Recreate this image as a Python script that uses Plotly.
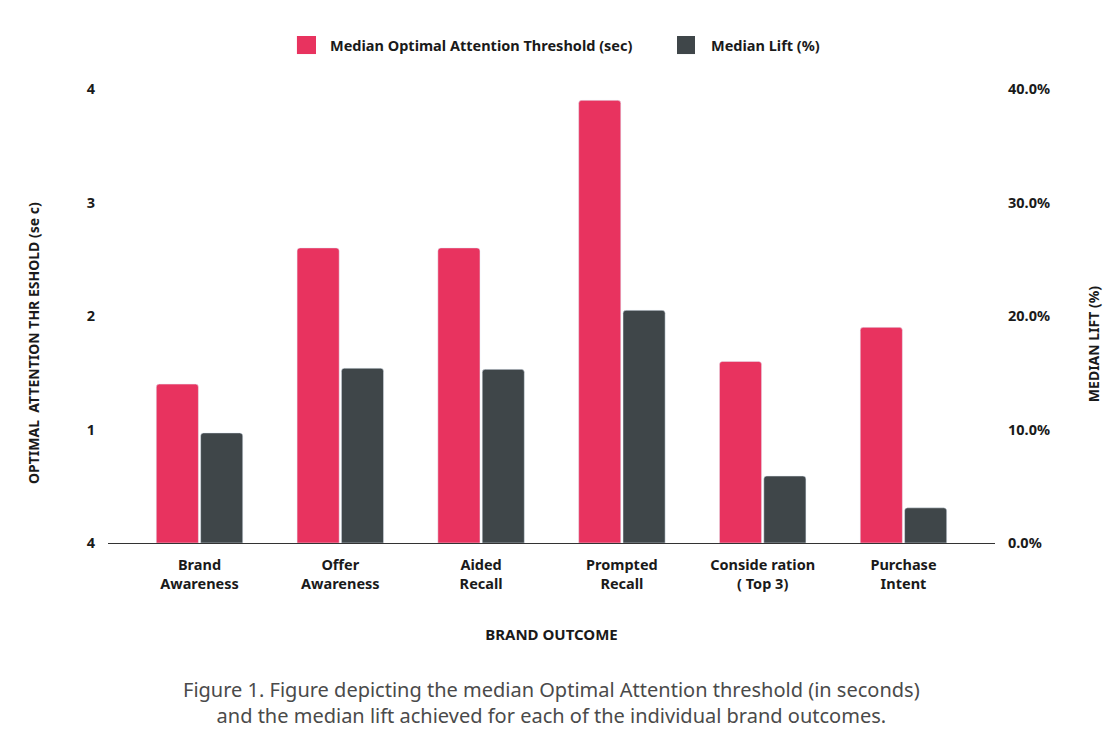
import plotly.graph_objects as go
from plotly.subplots import make_subplots

categories = ["Brand<br>Awareness", "Offer<br>Awareness", "Aided<br>Recall",
              "Prompted<br>Recall", "Conside ration<br>( Top 3)", "Purchase<br>Intent"]
threshold_sec = [1.4, 2.6, 2.6, 3.9, 1.6, 1.9]
lift_pct = [9.7, 15.4, 15.3, 20.5, 5.9, 3.1]

left_tickvals = [0, 1, 2, 3, 4]
left_ticktext = ["4", "1", "2", "3", "4"]
right_tickvals = [0, 10, 20, 30, 40]
right_ticktext = ["0.0%", "10.0%", "20.0%", "30.0%", "40.0%"]
series_names = ["Median Optimal Attention Threshold (sec)", "Median Lift (%)"]
left_title = "OPTIMAL  ATTENTION THR ESHOLD (se c)"
right_title = "MEDIAN LIFT (%)"
x_title = "BRAND OUTCOME"

PINK = "#E8335F"
DARK = "#3F4649"
FONT = "Noto Sans"
TXT = "#1a1a1a"

fig = make_subplots(specs=[[{"secondary_y": True}]])
fig.add_trace(go.Bar(x=categories, y=threshold_sec, name=series_names[0],
                     marker_color=PINK, offsetgroup="a", showlegend=False), secondary_y=False)
fig.add_trace(go.Bar(x=categories, y=lift_pct, name=series_names[1],
                     marker_color=DARK, offsetgroup="b", showlegend=False), secondary_y=True)

fig.update_layout(
    width=1104, height=727,
    paper_bgcolor="white", plot_bgcolor="white",
    margin=dict(l=100, r=117, t=81, b=192, autoexpand=False),
    barmode="group", bargap=0.37, bargroupgap=0.05, barcornerradius=3,
    font=dict(family=FONT, color=TXT),
    showlegend=False,
)
fig.update_xaxes(
    domain=[0, 1],
    range=[-0.65, 5.65], showline=True, linecolor="#333", linewidth=1, automargin=False,
    showgrid=False, ticks="", ticklabelstandoff=9,
    tickfont=dict(size=14.5, family=FONT, weight="bold", color=TXT),
    title=dict(text=x_title, font=dict(size=15, family=FONT, weight="bold", color=TXT), standoff=37),
)
fig.update_yaxes(
    range=[0, 4], tickvals=left_tickvals, ticktext=left_ticktext, showgrid=False, automargin=False,
    zeroline=False, showline=False, ticks="", ticklabelstandoff=12,
    tickfont=dict(size=14.5, family=FONT, weight="bold", color=TXT),
    secondary_y=False,
)
fig.update_yaxes(
    range=[0, 40], tickvals=right_tickvals, ticktext=right_ticktext, showgrid=False, automargin=False,
    zeroline=False, showline=False, ticks="", ticklabelstandoff=12,
    tickfont=dict(size=14.5, family=FONT, weight="bold", color=TXT),
    secondary_y=True,
)

# axis titles (placed like the reference, slightly below the plot centre)
fig.add_annotation(text=left_title, xref="paper", yref="paper", x=-0.0846, y=0.4405,
                   xanchor="center", yanchor="middle", textangle=-90, showarrow=False,
                   font=dict(size=14, family=FONT, weight="bold", color=TXT))
fig.add_annotation(text=right_title, xref="paper", yref="paper", x=1.1105, y=0.438,
                   xanchor="center", yanchor="middle", textangle=-90, showarrow=False,
                   font=dict(size=14, family=FONT, weight="bold", color=TXT))

# manual legend (larger swatches like the reference)
legend_items = [(0.213, 0.2345, 0.248, PINK, series_names[0]),
                (0.6415, 0.6618, 0.6776, DARK, series_names[1])]
for x0, x1, xt, col, name in legend_items:
    fig.add_shape(type="rect", xref="paper", yref="paper", x0=x0, x1=x1, y0=1.077, y1=1.1167,
                  fillcolor=col, line_width=0)
    fig.add_annotation(text=name, xref="paper", yref="paper", x=xt, y=1.097, xanchor="left",
                       yanchor="middle", showarrow=False,
                       font=dict(size=14.5, family=FONT, weight="bold", color=TXT))

fig.add_annotation(
    text="Figure 1. Figure depicting the median Optimal Attention threshold (in seconds)<br>and the median lift achieved for each of the individual brand outcomes.",
    xref="paper", yref="paper", x=0.5, y=-0.3524, xanchor="center", yanchor="middle",
    showarrow=False, font=dict(size=20, family=FONT, color="#4a4a4a"), align="center",
)
fig.write_html("out.html")
